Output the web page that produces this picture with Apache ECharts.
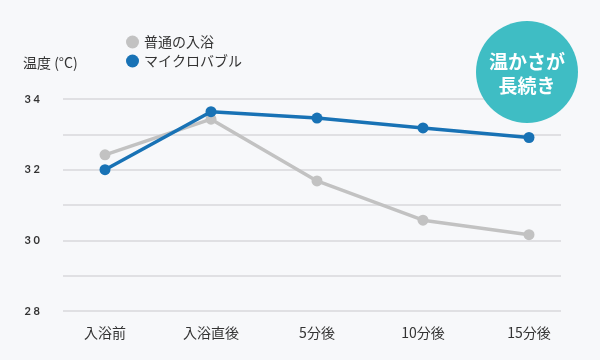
<!DOCTYPE html>
<html><head><meta charset="utf-8">
<script src="https://cdn.jsdelivr.net/npm/echarts@6/dist/echarts.min.js"></script>
<style>html,body{margin:0;padding:0;background:#f7f8fa}#c{width:600px;height:360px}</style>
</head><body><div id="c"></div>
<script>
const categories = ['入浴前', '入浴直後', '5分後', '10分後', '15分後'];
const normalBath = [32.42, 33.43, 31.68, 30.57, 30.16];
const microBubble = [32.0, 33.64, 33.46, 33.18, 32.91];
const seriesNames = ['普通の入浴', 'マイクロバブル'];
const yTicks = [28, 30, 32, 34];

const FONT = '"Noto Sans CJK JP", "Noto Sans", sans-serif';
const chart = echarts.init(document.getElementById('c'));
chart.setOption({
  backgroundColor: '#f7f8fa',
  animation: false,
  textStyle: { fontFamily: FONT },
  legend: {
    orient: 'vertical', left: 121, top: 30, itemGap: 5,
    icon: 'circle', itemWidth: 13, itemHeight: 13,
    textStyle: { fontSize: 14, color: '#333', fontFamily: FONT },
    data: seriesNames
  },
  grid: [
    { left: 63, right: 39, top: 99, bottom: 49 },
    { left: 105, right: 71, top: 99, bottom: 49 }
  ],
  xAxis: [
    { gridIndex: 0, type: 'category', data: categories, show: false },
    { gridIndex: 1, type: 'category', data: categories, boundaryGap: false,
      axisLine: { show: false }, axisTick: { show: false },
      axisLabel: { margin: 15, fontSize: 14, color: '#333', fontFamily: FONT } }
  ],
  yAxis: [
    { gridIndex: 0, type: 'value', min: yTicks[0], max: yTicks[yTicks.length - 1], interval: 1,
      axisLine: { show: false }, axisTick: { show: false },
      splitLine: { lineStyle: { color: '#d8d9db', width: 1.5 } },
      axisLabel: { margin: 23, fontSize: 11, fontWeight: 'bold', color: '#333', fontFamily: 'Lato, sans-serif',
        formatter: v => yTicks.includes(v) ? String(v).split('').join(' ') : '' } },
    { gridIndex: 1, type: 'value', min: yTicks[0], max: yTicks[yTicks.length - 1], show: false }
  ],
  series: [
    { name: seriesNames[0], type: 'line', xAxisIndex: 1, yAxisIndex: 1, data: normalBath,
      symbol: 'circle', symbolSize: 11, color: '#c2c2c2', lineStyle: { width: 3.5, color: '#c2c2c2' }, z: 2 },
    { name: seriesNames[1], type: 'line', xAxisIndex: 1, yAxisIndex: 1, data: microBubble,
      symbol: 'circle', symbolSize: 11, color: '#1872b5', lineStyle: { width: 3.5, color: '#1872b5' }, z: 3 }
  ],
  graphic: [
    { type: 'text', left: 23, top: 56, style: { text: '温度 (°C)', font: '14px ' + FONT, fill: '#333' } },
    { type: 'circle', shape: { cx: 527, cy: 72, r: 51 }, style: { fill: '#3fbdc4' }, z: 10 },
    { type: 'text', x: 527, y: 62, z: 11, style: { text: '温かさが', font: 'bold 19px ' + FONT, fill: '#fff', align: 'center', verticalAlign: 'middle' } },
    { type: 'text', x: 527, y: 86, z: 11, style: { text: '長続き', font: 'bold 19px ' + FONT, fill: '#fff', align: 'center', verticalAlign: 'middle' } }
  ]
});
</script></body></html>
